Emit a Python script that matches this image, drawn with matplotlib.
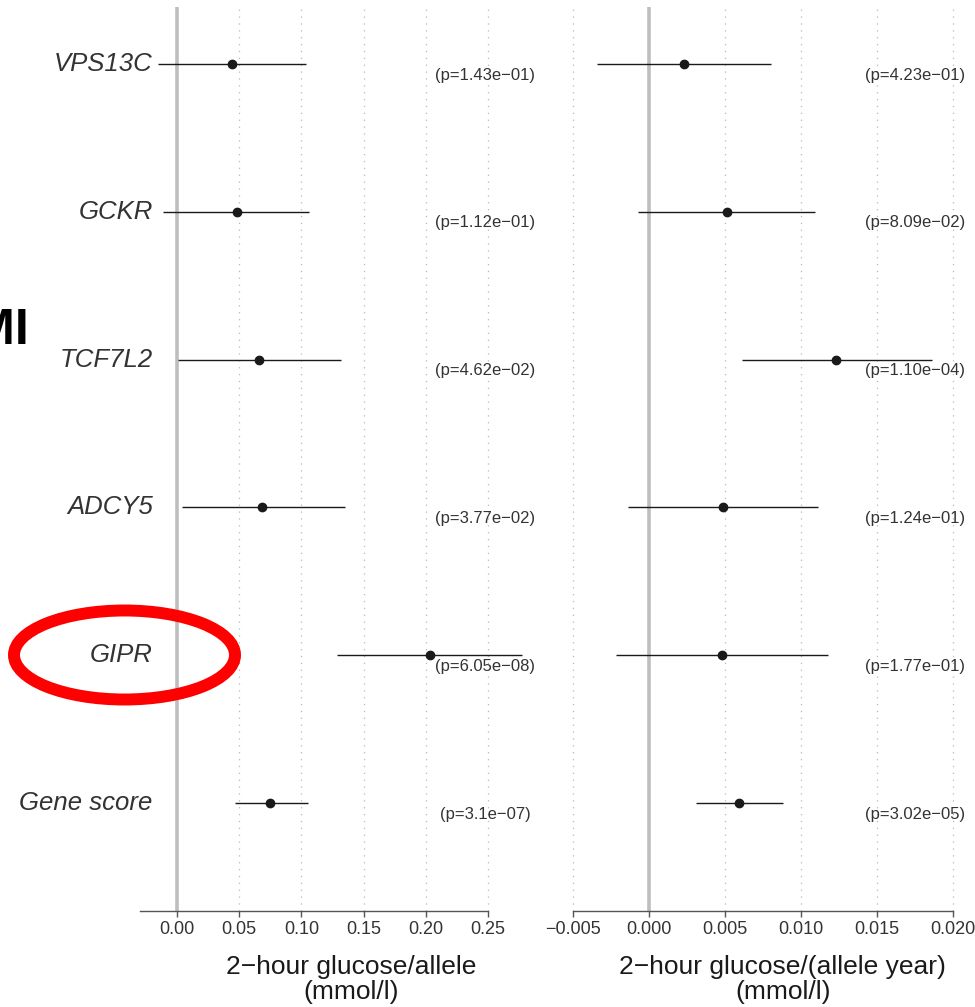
import matplotlib
matplotlib.use("Agg")
import matplotlib.pyplot as plt
from matplotlib.patches import Ellipse

plt.rcParams['font.family'] = ['Liberation Sans', 'DejaVu Sans']

# loci, top to bottom
genes = ['VPS13C', 'GCKR', 'TCF7L2', 'ADCY5', 'GIPR', 'Gene score']

# 2-hour glucose per allele (mmol/l): estimate and 95% CI
allele_est = [0.044, 0.048, 0.066, 0.068, 0.203, 0.075]
allele_lo = [-0.0155, -0.011, 0.0008, 0.004, 0.129, 0.0466]
allele_hi = [0.104, 0.106, 0.132, 0.135, 0.277, 0.105]
allele_p = ['(p=1.43e\u221201)', '(p=1.12e\u221201)', '(p=4.62e\u221202)',
            '(p=3.77e\u221202)', '(p=6.05e\u221208)', '(p=3.1e\u221207)']

# 2-hour glucose per allele-year (mmol/l): estimate and 95% CI
year_est = [0.0023, 0.0051, 0.0123, 0.0049, 0.0048, 0.0059]
year_lo = [-0.0034, -0.0007, 0.0061, -0.0014, -0.0022, 0.0031]
year_hi = [0.0080, 0.0109, 0.0186, 0.0111, 0.0118, 0.0088]
year_p = ['(p=4.23e\u221201)', '(p=8.09e\u221202)', '(p=1.10e\u221204)',
          '(p=1.24e\u221201)', '(p=1.77e\u221201)', '(p=3.02e\u221205)']

allele_ticks = [0.0, 0.05, 0.10, 0.15, 0.20, 0.25]
year_ticks = [-0.005, 0.0, 0.005, 0.010, 0.015, 0.020]

rows = list(range(len(genes), 0, -1))

fig = plt.figure(figsize=(9.75, 10.07), dpi=100)
ax1 = fig.add_axes([0.1436, 0.0953, 0.4154, 0.8977])
ax2 = fig.add_axes([0.5795, 0.0953, 0.4154, 0.8977])

line_col = '#1a1a1a'
text_col = '#333333'


def forest(ax, est, lo, hi, pvals, ticks, fmt, xlim, p_x, label, label_x):
    ax.set_xlim(*xlim)
    ax.set_ylim(0.269, 6.386)
    for t in ticks:
        if t != 0:
            ax.axvline(t, color='#b8b8b8', ls=(0, (1, 4.5)), lw=0.9, zorder=0)
    ax.axvline(0, color='#bebebe', lw=2.6, zorder=1)
    ax.hlines(rows, lo, hi, color=line_col, lw=1.0, zorder=2)
    ax.plot(est, rows, 'o', color=line_col, ms=6, zorder=3)
    for r, p in zip(rows, pvals):
        ax.text(p_x, r - 0.075, p, ha='center', va='center',
                fontsize=12, color=text_col)

    for s in ['top', 'right', 'left']:
        ax.spines[s].set_visible(False)
    ax.spines['bottom'].set_color('#555555')
    ax.spines['bottom'].set_linewidth(1.0)
    ax.set_yticks([])
    ax.set_xticks(ticks)
    ax.set_xticklabels([fmt.format(t).replace('-', '\u2212') for t in ticks])
    ax.tick_params(axis='x', length=4, width=1, color='#555555',
                   labelsize=13, labelcolor=text_col, pad=3)
    ax.set_xlabel(label, fontsize=19, color=line_col, linespacing=1.05)
    ax.xaxis.set_label_coords(label_x, -0.049)
    ax.xaxis.label.set_va('top')


forest(ax1, allele_est, allele_lo, allele_hi, allele_p, allele_ticks, '{:.2f}',
       (-0.0297, 0.2958), 0.2476,
       '2\u2212hour glucose/allele\n(mmol/l)', 0.521)
ax1.spines['bottom'].set_bounds(-0.0297, 0.25)

forest(ax2, year_est, year_lo, year_hi, year_p, year_ticks, '{:.3f}',
       (-0.005526, 0.021118), 0.0175,
       '2\u2212hour glucose/(allele year)\n(mmol/l)', 0.538)
ax2.spines['bottom'].set_bounds(-0.005, 0.020)

# gene names, italic, to the left of the first panel
for r, g in zip(rows, genes):
    ax1.text(-0.0195, r, g, ha='right', va='center', fontsize=18.5,
             style='italic', color=text_col)

# trait heading, running off the left edge of the canvas
fig.text(29 / 975, 1 - 331 / 1007, 'BMI', ha='right', va='center',
         fontsize=36, fontweight='bold', color='black')

# highlight around GIPR
fig.add_artist(Ellipse((124.5 / 975, 1 - 655 / 1007), 221 / 975, 89 / 1007,
                       transform=fig.transFigure, fill=False,
                       ec='#ff0000', lw=8.6, zorder=10))

fig.savefig('out.png', dpi=100)
